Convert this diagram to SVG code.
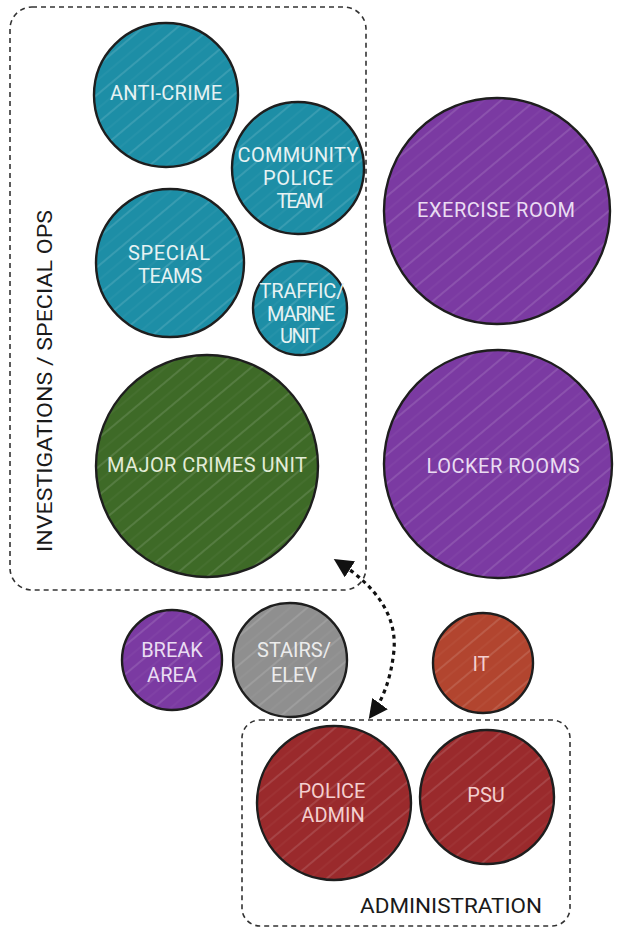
<svg xmlns="http://www.w3.org/2000/svg" width="629" height="930" viewBox="0 0 629 930">
<defs>
<pattern id="hatch" patternUnits="userSpaceOnUse" width="22" height="22" patternTransform="rotate(-40)">
<line x1="0" y1="3" x2="22" y2="3" stroke="#ffffff" stroke-opacity="0.12" stroke-width="2"/>
<line x1="0" y1="14" x2="22" y2="14" stroke="#ffffff" stroke-opacity="0.07" stroke-width="1"/>
</pattern>
<marker id="ah" viewBox="0 0 10 10" refX="8" refY="5" markerWidth="6" markerHeight="6" orient="auto-start-reverse" markerUnits="strokeWidth">
<path d="M0,0 L10,5 L0,10 z" fill="#111"/>
</marker>
</defs>
<style>
.c{stroke:#1e1e1e;stroke-width:2.4}
.h{fill:url(#hatch);stroke:none}
.teal{fill:#1d8ea6}
.green{fill:#3e6a27}
.purple{fill:#7b3aa2}
.grey{fill:#8f8f8f}
.orange{fill:#b2452f}
.red{fill:#9a2a2c}
.t{font-family:Roboto,"Liberation Sans",sans-serif;fill:#e6f2f3;text-anchor:middle;font-size:20px}
.tp{fill:#eadcf2}
.tr{fill:#f4cfcf}
.lbl{font-family:Roboto,"Liberation Sans",sans-serif;fill:#1a1a1a;font-size:20px}
.box{fill:none;stroke:#333;stroke-width:1.6;stroke-dasharray:5 4}
.arr{fill:none;stroke:#111;stroke-width:3.2;stroke-dasharray:4 4}
</style>
<rect width="629" height="930" fill="#ffffff"/>

<g id="investigations-group">
<rect class="box" x="10" y="7" width="356" height="583" rx="22"/>
<text class="lbl" transform="translate(52,552) rotate(-90)" textLength="342" lengthAdjust="spacingAndGlyphs">INVESTIGATIONS / SPECIAL OPS</text>
</g>

<g id="administration-group">
<rect class="box" x="242" y="720" width="328" height="206" rx="18"/>
<text class="lbl" x="451" y="913" text-anchor="middle" textLength="182" lengthAdjust="spacingAndGlyphs">ADMINISTRATION</text>
</g>

<g id="anti-crime">
<circle class="c teal" cx="166" cy="95" r="72"/><circle class="h" cx="166" cy="95" r="71"/>
<text class="t" x="166" y="100" textLength="112">ANTI-CRIME</text>
</g>
<g id="community-police-team">
<circle class="c teal" cx="298" cy="168" r="66"/><circle class="h" cx="298" cy="168" r="65"/>
<text class="t" x="298" y="162" textLength="121">COMMUNITY</text>
<text class="t" x="298" y="185" textLength="70">POLICE</text>
<text class="t" x="300" y="208" textLength="47">TEAM</text>
</g>
<g id="special-teams">
<circle class="c teal" cx="170" cy="263" r="74"/><circle class="h" cx="170" cy="263" r="73"/>
<text class="t" x="169" y="260" textLength="82">SPECIAL</text>
<text class="t" x="170" y="283" textLength="64">TEAMS</text>
</g>
<g id="traffic-marine-unit">
<circle class="c teal" cx="300" cy="308" r="47"/><circle class="h" cx="300" cy="308" r="46"/>
<text class="t" x="302" y="298" font-size="19" textLength="85">TRAFFIC/</text>
<text class="t" x="301" y="321" font-size="19" textLength="68">MARINE</text>
<text class="t" x="300" y="343" font-size="19" textLength="40">UNIT</text>
</g>
<g id="major-crimes-unit">
<circle class="c green" cx="207" cy="466" r="111"/><circle class="h" cx="207" cy="466" r="110"/>
<text class="t" x="207" y="472" textLength="200" style="fill:#e3ecd8">MAJOR CRIMES UNIT</text>
</g>
<g id="exercise-room">
<circle class="c purple" cx="497" cy="211" r="113"/><circle class="h" cx="497" cy="211" r="112"/>
<text class="t tp" x="496" y="217" textLength="158">EXERCISE ROOM</text>
</g>
<g id="locker-rooms">
<circle class="c purple" cx="498" cy="464" r="114"/><circle class="h" cx="498" cy="464" r="113"/>
<text class="t tp" x="503" y="473" textLength="153">LOCKER ROOMS</text>
</g>
<g id="break-area">
<circle class="c purple" cx="172" cy="660" r="50"/><circle class="h" cx="172" cy="660" r="49"/>
<text class="t tp" x="172" y="657">BREAK</text>
<text class="t tp" x="172" y="682">AREA</text>
</g>
<g id="stairs-elev">
<circle class="c grey" cx="290" cy="660" r="57"/><circle class="h" cx="290" cy="660" r="56"/>
<text class="t" x="294" y="657" style="fill:#ececec">STAIRS/</text>
<text class="t" x="294" y="682" style="fill:#ececec">ELEV</text>
</g>
<g id="it">
<circle class="c orange" cx="483" cy="663" r="50"/><circle class="h" cx="483" cy="663" r="49"/>
<text class="t tr" x="481" y="671" font-size="18">IT</text>
</g>
<g id="police-admin">
<circle class="c red" cx="334" cy="803" r="77"/><circle class="h" cx="334" cy="803" r="76"/>
<text class="t tr" x="332" y="798">POLICE</text>
<text class="t tr" x="333" y="822">ADMIN</text>
</g>
<g id="psu">
<circle class="c red" cx="487" cy="797" r="67"/><circle class="h" cx="487" cy="797" r="66"/>
<text class="t tr" x="486" y="802">PSU</text>
</g>

<g id="connectors">
<path class="arr" d="M337,561 Q398,600 394,650 Q390,690 371,716" marker-start="url(#ah)" marker-end="url(#ah)"/>
</g>
</svg>
